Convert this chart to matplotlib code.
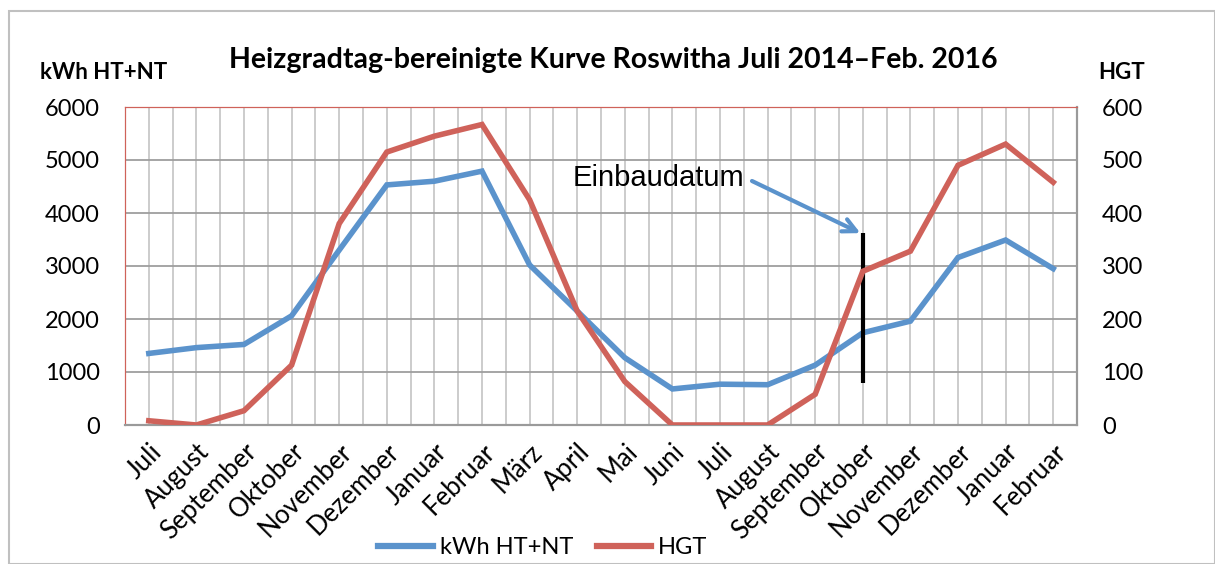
import matplotlib.pyplot as plt
from matplotlib.patches import Rectangle
from matplotlib.lines import Line2D

monate = ['Juli', 'August', 'September', 'Oktober', 'November', 'Dezember',
          'Januar', 'Februar', 'März', 'April', 'Mai', 'Juni', 'Juli',
          'August', 'September', 'Oktober', 'November', 'Dezember',
          'Januar', 'Februar']
kwh = [1350, 1460, 1520, 2060, 3300, 4530, 4600, 4790, 3020, 2150,
       1270, 680, 770, 760, 1130, 1740, 1960, 3160, 3490, 2950]
hgt = [8, 0, 27, 113, 380, 515, 545, 567, 425, 215,
       82, 0, 0, 0, 58, 290, 328, 490, 530, 458]
einbau_idx = 15
einbau_range = [800, 3620]

blau = '#5b93cc'
rot = '#cf625a'
plt.rcParams['font.family'] = ['Lato', 'DejaVu Sans']

fig = plt.figure(figsize=(12.15, 5.64), dpi=100)
ax = fig.add_axes([125 / 1215, 1 - 425 / 564, 952 / 1215, 318 / 564])
ax2 = ax.twinx()

x = list(range(len(monate)))
ax.plot(x, kwh, color=blau, lw=4, solid_joinstyle='miter', zorder=3)
ax2.plot(x, hgt, color=rot, lw=4, solid_joinstyle='miter', zorder=3)
ax.vlines(einbau_idx, einbau_range[0], einbau_range[1], color='black', lw=3, zorder=4)

ax.set_xlim(-0.5, len(monate) - 0.5)
ax.set_ylim(0, 6000)
ax2.set_ylim(0, 600)
ax.set_yticks(range(0, 6001, 1000))
ax2.set_yticks(range(0, 601, 100))
ax.set_xticks(x)
ax.set_xticklabels(monate, rotation=45, ha='right', rotation_mode='anchor')
ax.set_xticks([i - 0.5 for i in range(len(monate) + 1)], minor=True)

ax.grid(True, which='both', axis='x', color='#c8c8c8', lw=1.3)
ax.grid(True, which='major', axis='y', color='#9e9e9e', lw=1.3)
ax.set_axisbelow(True)

for a in (ax, ax2):
    a.tick_params(axis='both', which='both', length=0, labelsize=17, pad=18)
    a.spines['bottom'].set_color('#9a9a9a')
    a.spines['bottom'].set_linewidth(1.5)
    a.spines['right'].set_color('#9a9a9a')
    a.spines['right'].set_linewidth(1.5)
    a.spines['left'].set_color(rot)
    a.spines['left'].set_linewidth(0.8)
    a.spines['top'].set_color(rot)
    a.spines['top'].set_linewidth(0.8)
ax.tick_params(axis='x', pad=10, labelsize=18.5)

fig.text(613 / 1215, 1 - 60 / 564, 'Heizgradtag-bereinigte Kurve Roswitha Juli 2014–Feb. 2016',
         ha='center', va='center', fontsize=20.5, fontweight='bold')
fig.text(40 / 1215, 1 - 73 / 564, 'kWh HT+NT', ha='left', va='center',
         fontsize=16, fontweight='bold')
fig.text(1122 / 1215, 1 - 73 / 564, 'HGT', ha='center', va='center',
         fontsize=16, fontweight='bold')

fig.text(573 / 1215, 1 - 178 / 564, 'Einbaudatum', ha='left', va='center',
         fontsize=21, family='Liberation Sans')
ax.annotate('', xy=(einbau_idx - 0.05, einbau_range[1]),
            xytext=(752 / 1215, 1 - 181 / 564), textcoords='figure fraction',
            arrowprops=dict(arrowstyle='->', color=blau, lw=3,
                            mutation_scale=24, shrinkA=0, shrinkB=0),
            zorder=5)

handles = [Line2D([], [], color=blau, lw=4.5), Line2D([], [], color=rot, lw=4.5)]
fig.legend(handles, ['kWh HT+NT', 'HGT'], loc='center', ncol=2,
           bbox_to_anchor=(543 / 1215, 1 - 548 / 564), frameon=False, fontsize=17,
           handlelength=2.3, handletextpad=0.3, columnspacing=1.0)

fig.patches.append(Rectangle((9 / 1215, 0), 1 - 9 / 1215, 1 - 11 / 564,
                             transform=fig.transFigure, fill=False,
                             edgecolor='#c0c0c0', lw=1.5))

fig.savefig('out.png', dpi=100)
